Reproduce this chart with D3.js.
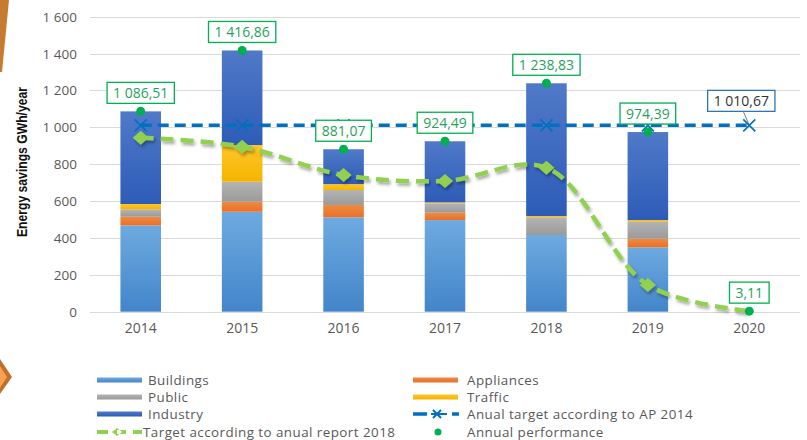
<!DOCTYPE html>
<meta charset="utf-8">
<style>
 body { margin: 0; background: #fff; }
 text { font-family: "Open Sans", "Liberation Sans", sans-serif; }
 .grid line { stroke: #d9d9d9; stroke-width: 1px; }
 .tick-label { fill: #595959; font-size: 13.5px; }
 .legend text { fill: #595959; font-size: 13.4px; letter-spacing: 0.45px; }
 .perf-box { fill: #fff; stroke: #00b050; stroke-width: 1.3px; }
 .perf-text { fill: #1fa35a; font-size: 14px; }
</style>
<svg class="chart"></svg>
<script src="https://cdn.jsdelivr.net/npm/d3@7"></script>
<script>

 // data (GWh/year)
 var years = ["2014", "2015", "2016", "2017", "2018", "2019", "2020"];
 var buildings  = [468, 542, 512, 497, 416, 349, 0];
 var appliances = [47, 55, 67, 40, 0, 47, 0];
 var publicSec  = [40, 108, 81, 51, 96, 92, 0];
 var traffic    = [29, 199, 32, 5, 7, 9, 0];
 var industry   = [502.51, 512.86, 189.07, 331.49, 719.83, 477.39, 0];
 var performance = [1086.51, 1416.86, 881.07, 924.49, 1238.83, 974.39, 3.11];
 var targetAP2014 = [1010.67, 1010.67, 1010.67, 1010.67, 1010.67, 1010.67, 1010.67];
 var targetReport2018 = [944, 895, 741, 709, 781, 145, 3.11];
 var yTicks = [0, 200, 400, 600, 800, 1000, 1200, 1400, 1600];

 var series = [
     {name: "Buildings", values: buildings, c1: "#6eaae0", c2: "#4385ca"},
     {name: "Appliances", values: appliances, c1: "#f08a40", c2: "#e8702a"},
     {name: "Public", values: publicSec, c1: "#b4b4b4", c2: "#9a9a9a"},
     {name: "Traffic", values: traffic, c1: "#ffc629", c2: "#f5b400"},
     {name: "Industry", values: industry, c1: "#5079c8", c2: "#2d5cb8"}
 ];

 var locale = d3.formatLocale({decimal: ",", thousands: " ", grouping: [3], currency: ["", ""]});
 var fmt = locale.format(",.2f");
 var fmtTick = locale.format(",d");

 var svg = d3.select(".chart").attr("width", 807).attr("height", 440);
 var defs = svg.append("defs");

 series.forEach(function(s, i) {
     var g = defs.append("linearGradient").attr("id", "grad" + i)
                 .attr("x1", 0).attr("y1", 0).attr("x2", 0).attr("y2", 1);
     g.append("stop").attr("offset", "0%").attr("stop-color", s.c1);
     g.append("stop").attr("offset", "100%").attr("stop-color", s.c2);
 });

 var shadow = defs.append("filter").attr("id", "shadow")
                  .attr("x", "-10%").attr("y", "-10%").attr("width", "130%").attr("height", "130%");
 shadow.append("feDropShadow").attr("dx", 1.5).attr("dy", 2.5).attr("stdDeviation", 1.8)
       .attr("flood-color", "#000").attr("flood-opacity", 0.35);

 // left edge decorations
 svg.append("polygon").attr("points", "0,0 9,0 2,72 0,72").attr("fill", "#c77a30");
 svg.append("polygon").attr("points", "0,359 12,377 0,394").attr("fill", "#c0702a");
 svg.append("polygon").attr("points", "0,366 7,377 0,388").attr("fill", "#f6a24f");

 var x = d3.scaleBand().domain(years).range([90, 800]).paddingInner(0.6).paddingOuter(0.3);
 var y = d3.scaleLinear().domain([0, 1600]).range([311.7, 16.7]);
 var cx = function(i) { return x(years[i]) + x.bandwidth() / 2; };

 // grid
 svg.append("g").attr("class", "grid").selectAll("line").data(yTicks).enter()
    .append("line").attr("x1", 90).attr("x2", 800)
    .attr("y1", function(d) { return Math.round(y(d)) + 0.5; })
    .attr("y2", function(d) { return Math.round(y(d)) + 0.5; });

 svg.append("g").selectAll("text").data(yTicks).enter().append("text")
    .attr("class", "tick-label").attr("text-anchor", "end")
    .attr("x", 77).attr("y", function(d) { return y(d) + 5; })
    .text(function(d) { return fmtTick(d); });

 svg.append("g").selectAll("text").data(years).enter().append("text")
    .attr("class", "tick-label").attr("text-anchor", "middle").style("font-size", "14px")
    .attr("x", function(d) { return x(d) + x.bandwidth() / 2; }).attr("y", 333)
    .text(function(d) { return d; });

 svg.append("text").attr("transform", "translate(27,162) rotate(-90)")
    .attr("text-anchor", "middle")
    .attr("textLength", 150).attr("lengthAdjust", "spacingAndGlyphs")
    .style("font-family", "'Liberation Sans', sans-serif")
    .style("font-weight", "bold").style("font-size", "14.5px").style("fill", "#111")
    .text("Energy savings  GWh/year");

 // stacked bars
 var rows = years.map(function(yr, i) {
     var r = {year: yr};
     series.forEach(function(s) { r[s.name] = s.values[i]; });
     return r;
 });
 var stack = d3.stack().keys(series.map(function(s) { return s.name; }))(rows);

 svg.append("g").selectAll("g").data(stack).enter().append("g")
    .attr("fill", function(d, i) { return "url(#grad" + i + ")"; })
    .selectAll("rect").data(function(d) { return d; }).enter().append("rect")
    .attr("x", function(d) { return x(d.data.year); })
    .attr("width", x.bandwidth())
    .attr("y", function(d) { return y(d[1]); })
    .attr("height", function(d) { return y(d[0]) - y(d[1]); });

 // annual target according to AP 2014
 var line = d3.line().x(function(d, i) { return cx(i); }).y(function(d) { return y(d); });
 svg.append("path").datum(targetAP2014).attr("d", line)
    .attr("fill", "none").attr("stroke", "#0070c0").attr("stroke-width", 3.5)
    .attr("stroke-dasharray", "11,6");
 svg.append("g").selectAll("path").data(targetAP2014).enter().append("path")
    .attr("transform", function(d, i) { return "translate(" + cx(i) + "," + y(d) + ")"; })
    .attr("d", "M-6,-6L6,6M-6,6L6,-6")
    .attr("stroke", "#0070c0").attr("stroke-width", 1.6).attr("fill", "none");

 // target according to annual report 2018
 var smooth = d3.line().x(function(d, i) { return cx(i); }).y(function(d) { return y(d); })
                .curve(d3.curveCatmullRom.alpha(0.5));
 var tg = svg.append("g").attr("filter", "url(#shadow)");
 tg.append("path").datum(targetReport2018).attr("d", smooth)
   .attr("fill", "none").attr("stroke", "#92d050").attr("stroke-width", 4.5)
   .attr("stroke-dasharray", "13,7");
 tg.selectAll("path.dia").data(targetReport2018.slice(0, 6)).enter().append("path")
   .attr("class", "dia")
   .attr("transform", function(d, i) { return "translate(" + cx(i) + "," + y(d) + ")"; })
   .attr("d", "M0,-7L8,0L0,7L-8,0Z").attr("fill", "#92d050");

 // annual performance
 svg.append("g").selectAll("circle").data(performance).enter().append("circle")
    .attr("cx", function(d, i) { return cx(i); }).attr("cy", function(d) { return y(d); })
    .attr("r", 4.5).attr("fill", "#00b050");

 var labels = svg.append("g").selectAll("g").data(performance).enter().append("g")
    .attr("transform", function(d, i) { return "translate(" + cx(i) + "," + (y(d) - 8) + ")"; });
 labels.append("text").attr("class", "perf-text").attr("text-anchor", "middle")
       .attr("y", -5).text(function(d) { return fmt(d); });
 labels.insert("rect", "text").attr("class", "perf-box")
       .each(function() {
           var bb = this.parentNode.querySelector("text").getBBox();
           d3.select(this).attr("x", bb.x - 6).attr("width", bb.width + 12)
             .attr("y", -21).attr("height", 21);
       });

 // label for the AP 2014 target
 var tx = cx(6), ty = y(targetAP2014[6]);
 svg.append("line").attr("x1", tx - 6).attr("y1", ty - 14).attr("x2", tx).attr("y2", ty)
    .attr("stroke", "#595959").attr("stroke-width", 0.8);
 var tl = svg.append("g").attr("transform", "translate(" + (tx - 8) + "," + (ty - 14) + ")");
 var tt = tl.append("text").attr("text-anchor", "middle").attr("y", -5)
            .style("font-size", "14px").style("fill", "#333").text(fmt(targetAP2014[6]));
 var tb = tt.node().getBBox();
 tl.insert("rect", "text").attr("x", tb.x - 6).attr("width", tb.width + 12)
   .attr("y", -21).attr("height", 21)
   .attr("fill", "#fff").attr("stroke", "#2e75b6").attr("stroke-width", 1.3);

 // legend
 var legend = svg.append("g").attr("class", "legend");
 var leftItems = [
     {name: "Buildings", kind: "bar", s: 0},
     {name: "Public", kind: "bar", s: 2},
     {name: "Industry", kind: "bar", s: 4},
     {name: "Target according to anual report 2018", kind: "green"}
 ];
 var rightItems = [
     {name: "Appliances", kind: "bar", s: 1},
     {name: "Traffic", kind: "bar", s: 3},
     {name: "Anual target according to AP 2014", kind: "blue"},
     {name: "Annual performance", kind: "dot"}
 ];
 var rowY = [380, 397, 414, 432];

 function drawItem(item, i, sx, tx0) {
     var gy = rowY[i];
     if (item.kind == "bar") {
         legend.append("rect").attr("x", sx).attr("y", gy - 2.5).attr("width", 45).attr("height", 5)
               .attr("fill", "url(#grad" + item.s + ")");
     } else if (item.kind == "green") {
         legend.append("path").attr("d", "M" + sx + "," + gy + "h11M" + (sx + 36) + "," + gy + "h9")
               .attr("stroke", "#92d050").attr("stroke-width", 4);
         legend.append("path").attr("d", "M" + (sx + 20) + "," + (gy - 4) + "l-5,4l5,4l5,-4z M" + (sx + 20) + "," + (gy - 2) + "h9v4h-9z")
               .attr("fill", "#92d050");
     } else if (item.kind == "blue") {
         legend.append("path").attr("d", "M" + sx + "," + gy + "h14M" + (sx + 39) + "," + gy + "h7")
               .attr("stroke", "#0070c0").attr("stroke-width", 3.5);
         legend.append("path").attr("d", "M" + (sx + 18) + "," + gy + "h16M" + (sx + 20) + "," + (gy - 4) + "l8,8M" + (sx + 20) + "," + (gy + 4) + "l8,-8")
               .attr("stroke", "#0070c0").attr("stroke-width", 2);
     } else {
         legend.append("circle").attr("cx", sx + 25).attr("cy", gy).attr("r", 3.5).attr("fill", "#00b050");
     }
     legend.append("text").attr("x", tx0).attr("y", gy + 4.5).text(item.name);
 }
 leftItems.forEach(function(it, i) { drawItem(it, i, 97, it.kind == "green" ? 143 : 148); });
 rightItems.forEach(function(it, i) { drawItem(it, i, 413, 467); });

</script>
